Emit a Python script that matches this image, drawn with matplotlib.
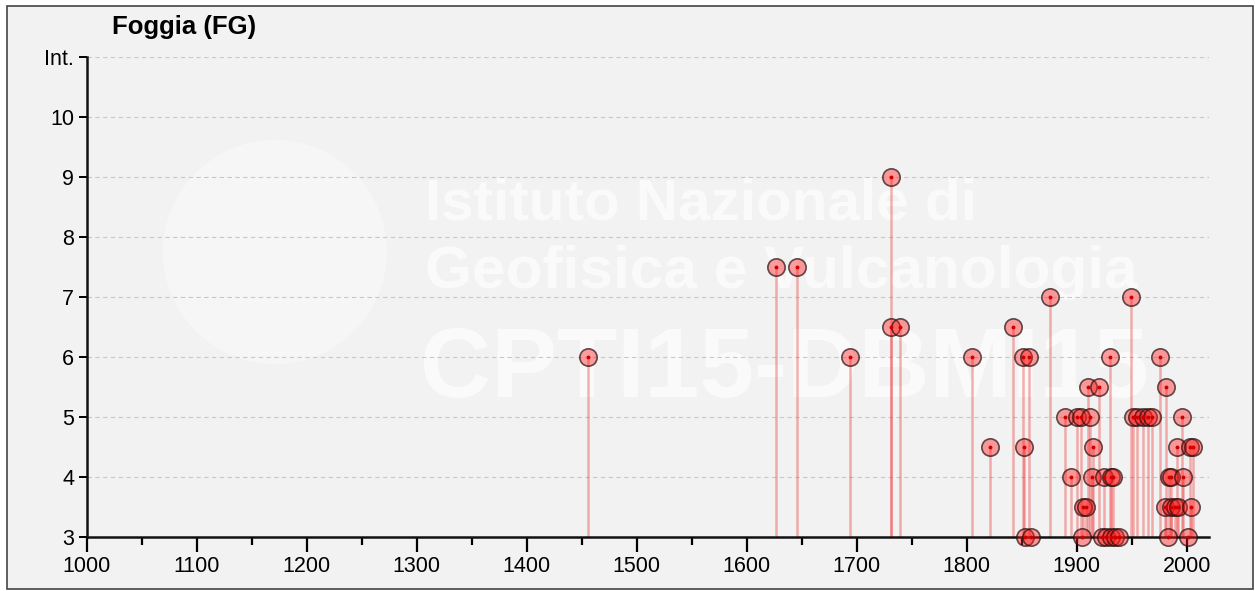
import matplotlib
matplotlib.use("Agg")
import matplotlib.pyplot as plt
from matplotlib.patches import Rectangle, Circle

plt.rcParams['font.family'] = ['Liberation Sans', 'DejaVu Sans']

title = "Foggia (FG)"
years = [1456, 1627, 1646, 1694, 1731, 1731, 1739, 1805, 1821, 1842,
         1851, 1852, 1853, 1857, 1858, 1876, 1889, 1895, 1900, 1904,
         1905, 1906, 1908, 1910, 1912, 1914, 1915, 1920, 1923, 1925,
         1927, 1930, 1931, 1931, 1933, 1935, 1938, 1949, 1951, 1955,
         1960, 1965, 1968, 1976, 1980, 1981, 1983, 1984, 1986, 1986,
         1989, 1991, 1992, 1996, 1997, 2001, 2003, 2004, 2006]
intensity = [6, 7.5, 7.5, 6, 9, 6.5, 6.5, 6, 4.5, 6.5,
             6, 4.5, 3, 6, 3, 7, 5, 4, 5, 5,
             3, 3.5, 3.5, 5.5, 5, 4, 4.5, 5.5, 3, 4,
             3, 6, 3, 4, 4, 3, 3, 7, 5, 5,
             5, 5, 5, 6, 3.5, 5.5, 3, 4, 4, 3.5,
             3.5, 4.5, 3.5, 5, 4, 3, 4.5, 3.5, 4.5]
xticks = list(range(1000, 2001, 100))
yticks = [3, 4, 5, 6, 7, 8, 9, 10, 11]
ytick_labels = ["3", "4", "5", "6", "7", "8", "9", "10", "Int."]

W, H = 1255, 591
fig = plt.figure(figsize=(W / 100, H / 100), dpi=100)
fig.patch.set_facecolor('white')
bg = Rectangle((7 / W, 2 / H), 1246 / W, 583 / H, transform=fig.transFigure,
               facecolor='#f2f2f2', edgecolor='#444444', linewidth=1.2, zorder=-10)
fig.patches.append(bg)

# watermark (logo + text)
fig.patches.append(Circle((275, H - 252), 112, transform=None, facecolor='white',
                          alpha=0.35, edgecolor='none', zorder=-5))
wm_kw = dict(color='white', fontweight='bold', va='center', ha='left', alpha=0.62,
             zorder=-4)
fig.text(425 / W, 1 - 205 / H, "Istituto Nazionale di", fontsize=42, **wm_kw)
fig.text(425 / W, 1 - 272 / H, "Geofisica e Vulcanologia", fontsize=43.5, **wm_kw)
fig.text(420 / W, 1 - 372 / H, "CPTI15-DBMI15", fontsize=71, **wm_kw)

ax = fig.add_axes([86.7 / W, 54 / H, 1122 / W, 480 / H])
ax.set_facecolor('none')
ax.set_xlim(1000, 2020)
ax.set_ylim(3, 11)

for y in yticks[1:]:
    ax.axhline(y, color='#c8c8c8', linestyle=(0, (4, 3)), linewidth=0.8, zorder=0)

ax.vlines(years, 3, intensity, color='#ee3333', alpha=0.38, linewidth=1.8, zorder=2)
ax.plot(years, intensity, 'o', markersize=12.5, markerfacecolor=(1, 0.1, 0.1, 0.42),
        markeredgecolor=(0.15, 0.05, 0.05, 0.7), markeredgewidth=1.2,
        linestyle='none', zorder=3, clip_on=False)
ax.plot(years, intensity, 'o', markersize=1.8, color='#cc0000', linestyle='none',
        zorder=4, clip_on=False)

for s in ['top', 'right']:
    ax.spines[s].set_visible(False)
for s in ['left', 'bottom']:
    ax.spines[s].set_linewidth(1.8)
    ax.spines[s].set_color('#111111')

ax.set_xticks(xticks)
ax.set_xticks(range(1050, 2001, 100), minor=True)
ax.set_yticks(yticks)
ax.set_yticklabels(ytick_labels)
ax.tick_params(axis='x', which='major', length=11, width=1.6, labelsize=15.5, pad=3)
ax.tick_params(axis='x', which='minor', length=6, width=1.6)
ax.tick_params(axis='y', length=6, width=1.4, labelsize=15.5, pad=3)

fig.text(112 / W, 1 - 27 / H, title, fontsize=18.5, fontweight='bold', va='center',
         ha='left')

fig.savefig("out.png", dpi=100, facecolor=fig.get_facecolor())
